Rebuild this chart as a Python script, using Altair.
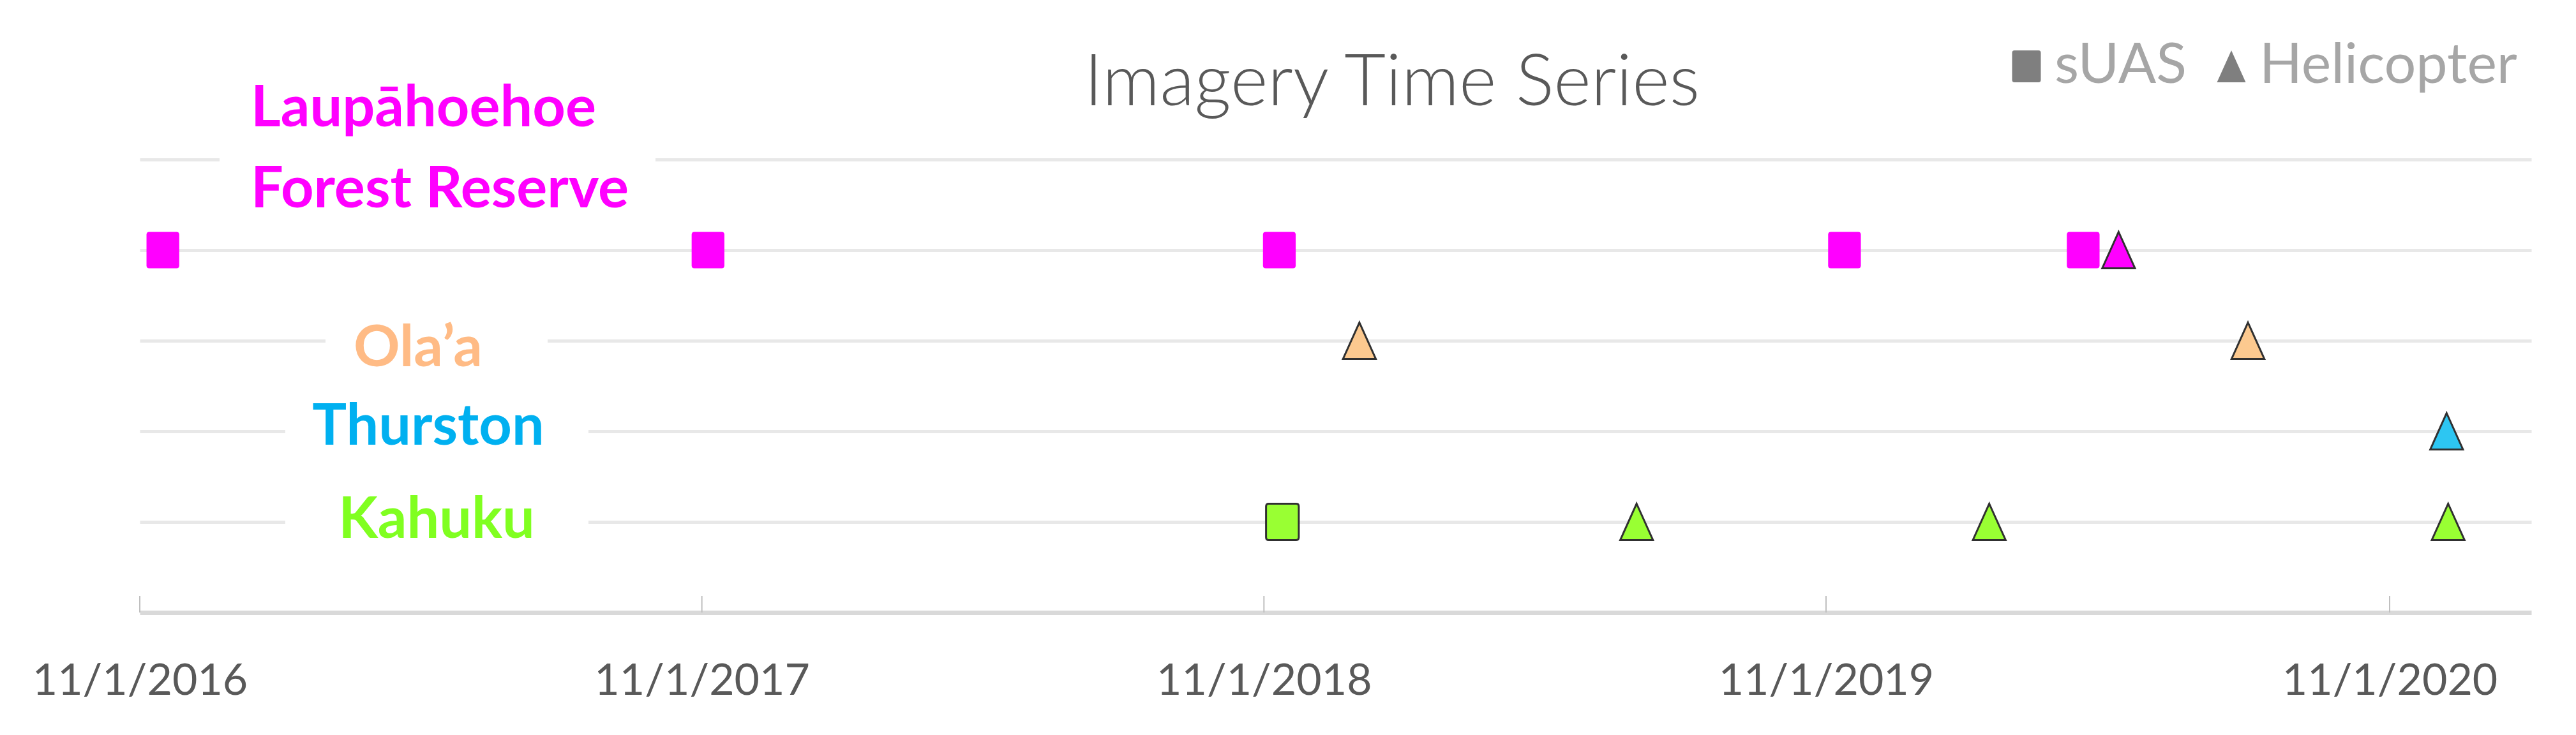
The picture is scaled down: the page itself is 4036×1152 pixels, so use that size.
import altair as alt
import pandas as pd

# ---------------- data ----------------
sites = ["Laupāhoehoe Forest Reserve", "Ola’a", "Thurston", "Kahuku"]
site_rows = [4, 3, 2, 1]
site_fill = ["#FF00FF", "#FCC98F", "#2DC6F2", "#99FF33"]
label_color = ["#FF00FF", "#FFBB85", "#00B0F0", "#80FF20"]
platforms = ["sUAS", "Helicopter"]

obs_site = ["Laupāhoehoe Forest Reserve"] * 6 + ["Ola’a"] * 2 + ["Thurston"] + ["Kahuku"] * 4
obs_platform = ["sUAS", "sUAS", "sUAS", "sUAS", "sUAS", "Helicopter",
                "Helicopter", "Helicopter",
                "Helicopter",
                "sUAS", "Helicopter", "Helicopter", "Helicopter"]
obs_date = ["2016/11/16", "2017/11/05", "2018/11/11", "2019/11/13", "2020/04/16", "2020/05/09",
            "2019/01/02", "2020/08/01",
            "2020/12/08",
            "2018/11/13", "2019/07/01", "2020/02/15", "2020/12/09"]

tick_dates = ["2016/11/01", "2017/11/01", "2018/11/01", "2019/11/01", "2020/11/01"]
title_text = "Imagery Time Series"

# label text lines per site
label_lines = [["Laupāhoehoe", "Forest Reserve"], ["Ola’a"], ["Thurston"], ["Kahuku"]]

# ---------------- styles ----------------
FONT = "Lato"
W, H = 3747, 710
label_style = {
    "Laupāhoehoe Forest Reserve": {"x": 174, "align": "left", "dy": [-194, -67], "gap": (125, 808), "gap_row": 5},
    "Ola’a": {"x": 436, "align": "center", "dy": [40], "gap": (291, 639), "gap_row": 3},
    "Thurston": {"x": 452, "align": "center", "dy": [21], "gap": (228, 703), "gap_row": 2},
    "Kahuku": {"x": 465, "align": "center", "dy": [25], "gap": (228, 703), "gap_row": 1},
}

sq_path = ("M-0.9,-0.85 Q-0.9,-1 -0.75,-1 L0.75,-1 Q0.9,-1 0.9,-0.85 L0.9,0.85 "
           "Q0.9,1 0.75,1 L-0.75,1 Q-0.9,1 -0.9,0.85 Z")
tri_path = "M0,-1 L0.9,1 L-0.9,1 Z"

row_of = dict(zip(sites, site_rows))
df = pd.DataFrame({"site": obs_site, "platform": obs_platform, "date": obs_date})
df["row"] = df["site"].map(row_of)
df["plain"] = (df["site"] == sites[0]) & (df["platform"] == "sUAS")

def dt(s):
    y, m, d = [int(v) for v in s.split("/")]
    return alt.DateTime(year=y, month=m, date=d)

x_scale = alt.Scale(domain=[dt("2016/11/01"), dt("2021/02/01")])
y_scale = alt.Scale(domain=[0, 5])
shape_scale = alt.Scale(domain=platforms, range=[sq_path, tri_path])

x_enc = alt.X("date:T", scale=x_scale,
              axis=alt.Axis(values=[dt(s) for s in tick_dates], format="%-m/%-d/%Y",
                            title=None, grid=False, ticks=False, tickSize=0,
                            domainColor="#D9D9D9", domainWidth=7,
                            labelFont=FONT, labelFontSize=68, labelColor="#595959",
                            labelPadding=74, labelFlush=False, labelOverlap=False, labelLimit=0))
y_enc = alt.Y("row:Q", scale=y_scale,
              axis=alt.Axis(values=[1, 2, 3, 4, 5], grid=True, gridColor="#E8E8E8", gridWidth=5,
                            labels=False, ticks=False, domain=False, title=None))

color_enc = alt.Color("site:N", scale=alt.Scale(domain=sites, range=site_fill), legend=None)
legend_def = alt.Legend(title=None, orient="none", legendX=2912, legendY=-190,
                        direction="horizontal", padding=0,
                        labelFont=FONT, labelFontSize=88, labelColor="#A6A6A6",
                        labelLimit=0, symbolStrokeWidth=0, symbolSize=2500, symbolOpacity=1,
                        labelOffset=0, columnPadding=25)

base = alt.Chart(df)

layers = []

# white boxes behind labels (hide gridlines)
for s in sites:
    st = label_style[s]
    layers.append(
        alt.Chart(pd.DataFrame({"row": [st["gap_row"]]})).mark_rule(color="white", strokeWidth=16)
        .encode(y=alt.Y("row:Q", scale=y_scale), x=alt.value(st["gap"][0]), x2=alt.value(st["gap"][1]))
    )

# inward tick marks on x axis
layers.append(
    alt.Chart(pd.DataFrame({"date": tick_dates})).mark_rule(color="#BFBFBF", strokeWidth=2)
    .encode(x=alt.X("date:T", scale=x_scale), y=alt.value(H), y2=alt.value(H - 26))
)

# legend carrier (no marks drawn, gray legend symbols)
layers.append(
    base.transform_filter("false").mark_point(filled=True, size=2500, opacity=1, color="#7F7F7F")
    .encode(x=x_enc, y=y_enc, shape=alt.Shape("platform:N", scale=shape_scale, legend=legend_def))
)

pts_plain = base.transform_filter("datum.plain").mark_point(filled=True, size=3249, opacity=1).encode(
    x=alt.X("date:T", scale=x_scale), y=alt.Y("row:Q", scale=y_scale), color=color_enc,
    shape=alt.Shape("platform:N", scale=shape_scale, legend=None))
pts_stroke = base.transform_filter("!datum.plain").mark_point(
    filled=True, size=3249, opacity=1, stroke="#303030", strokeWidth=3).encode(
    x=alt.X("date:T", scale=x_scale), y=alt.Y("row:Q", scale=y_scale), color=color_enc,
    shape=alt.Shape("platform:N", scale=shape_scale, legend=None))
layers += [pts_plain, pts_stroke]

# site labels
for s, lines, col in zip(sites, label_lines, label_color):
    st = label_style[s]
    for line, dy in zip(lines, st["dy"]):
        layers.append(
            alt.Chart(pd.DataFrame({"row": [row_of[s]], "t": [line]}))
            .mark_text(font=FONT, fontSize=90, fontWeight="bold", color=col,
                       align=st["align"], baseline="alphabetic", dy=dy)
            .encode(x=alt.value(st["x"]), y=alt.Y("row:Q", scale=y_scale), text="t:N")
        )

# title
layers.append(
    alt.Chart(pd.DataFrame({"t": [title_text]}))
    .mark_text(font=FONT, fontSize=112, fontWeight=300, color="#595959", align="center",
               baseline="alphabetic")
    .encode(x=alt.value(1962), y=alt.value(-85), text="t:N")
)

chart = alt.layer(*layers).properties(
    width=W, height=H,
    autosize=alt.AutoSizeParams(type="none"),
    padding={"left": 211, "top": 242, "right": 60, "bottom": 170},
    background="white",
).configure_view(stroke=None)

chart.save("out.html", embed_options={"renderer": "svg", "actions": False})
